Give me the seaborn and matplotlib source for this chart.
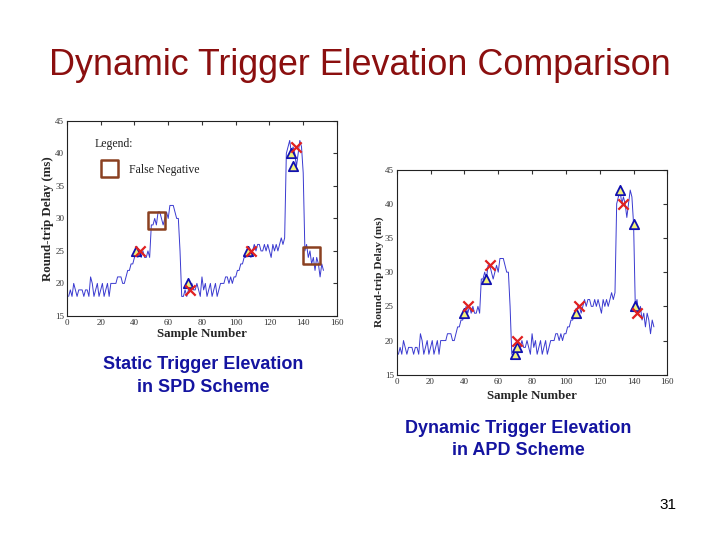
import numpy as np
import pandas as pd
import matplotlib
matplotlib.use("Agg")
import matplotlib.pyplot as plt
import seaborn as sns

# Round-trip delay trace (ms), samples 1..152
delay = [18, 19, 18, 20, 19, 18, 19, 19, 19, 18, 19, 19, 18, 21, 20, 18, 19, 20, 18, 19,
         20, 18, 19, 20, 18, 20, 20, 20, 20, 21, 21, 21, 20, 20, 21, 22, 22, 23, 23, 24,
         25, 24, 25, 24, 25, 24, 24, 25, 24, 29, 29, 30, 29, 31, 31, 30, 29, 30, 31, 30,
         32, 32, 32, 31, 30, 30, 25, 18, 18, 19, 18, 19, 19, 20, 19, 19, 20, 19, 18, 21,
         19, 20, 18, 19, 20, 18, 19, 20, 18, 19, 20, 20, 20, 21, 21, 20, 21, 20, 21, 21,
         22, 22, 23, 23, 24, 24, 25, 25, 24, 25, 26, 25, 26, 26, 25, 25, 26, 25, 26, 25,
         24, 26, 25, 26, 25, 26, 27, 26, 27, 40, 41, 42, 40, 41, 40, 38, 40, 42, 41, 37,
         25, 26, 24, 25, 23, 24, 22, 24, 23, 21, 23, 22]
samples = list(range(1, len(delay) + 1))

# Static scheme (SPD) markers
spd_tri_x = [41, 72, 107, 133, 134]
spd_tri_y = [25, 20, 25, 40, 38]
spd_x_x = [43, 73, 109, 136]
spd_x_y = [25, 19, 25, 41]
spd_fn_x = [53, 145]
spd_fn_y = [29.7, 24.3]

# Dynamic scheme (APD) markers
apd_tri_x = [40, 53, 70, 71, 106, 132, 140, 141]
apd_tri_y = [24, 29, 18, 19, 24, 42, 37, 25]
apd_x_x = [42, 55, 71, 108, 134, 142]
apd_x_y = [25, 31, 20, 25, 40, 24]

sns.set_style("white")
plt.rcParams['font.family'] = ['Liberation Sans', 'DejaVu Sans']

trace = pd.DataFrame({"Sample Number": samples, "Round-trip Delay (ms)": delay})

fig = plt.figure(figsize=(7.2, 5.4), dpi=100)
fig.patch.set_facecolor("white")

ax1 = fig.add_axes([0.093, 0.415, 0.375, 0.361])
ax2 = fig.add_axes([0.551, 0.306, 0.376, 0.380])


def draw_panel(ax, tri_x, tri_y, x_x, x_y, ylab_size, xpad):
    sns.lineplot(data=trace, x="Sample Number", y="Round-trip Delay (ms)", ax=ax,
                 color="#3a3ad0", linewidth=0.7)
    ax.scatter(tri_x, tri_y, marker="^", s=45, facecolors="#f2f27a",
               edgecolors="#1010b0", linewidths=1.3, zorder=4)
    sns.scatterplot(x=x_x, y=x_y, ax=ax, marker="x", s=55,
                    color="#e02020", linewidth=1.6, zorder=5)
    ax.set_xlim(0, 160)
    ax.set_ylim(15, 45)
    ax.set_xticks(range(0, 161, 20))
    ax.set_yticks(range(15, 46, 5))
    ax.tick_params(direction="in", length=3, top=True, right=True, labelsize=6.5,
                   pad=2, colors="#333333")
    for lab in ax.get_xticklabels() + ax.get_yticklabels():
        lab.set_family("Liberation Serif")
    ax.set_xlabel("Sample Number", family="Liberation Serif", fontweight="bold",
                  fontsize=9.3, labelpad=xpad)
    ax.set_ylabel("Round-trip Delay (ms)", family="Liberation Serif",
                  fontweight="bold", fontsize=ylab_size, labelpad=1)
    for sp in ax.spines.values():
        sp.set_color("#222222")
        sp.set_linewidth(0.8)


draw_panel(ax1, spd_tri_x, spd_tri_y, spd_x_x, spd_x_y, 9.3, 1)
draw_panel(ax2, apd_tri_x, apd_tri_y, apd_x_x, apd_x_y, 8.2, 3)

# false negatives and legend in the SPD panel
ax1.scatter(spd_fn_x, spd_fn_y, marker="s", s=150, facecolors="none",
            edgecolors="#8b4020", linewidths=1.8, zorder=6)
ax1.scatter([25], [37.7], marker="s", s=150, facecolors="none",
            edgecolors="#8b4020", linewidths=1.8, zorder=6)
ax1.text(16.5, 41.5, "Legend:", family="Liberation Serif", fontsize=8.5,
         va="center", color="#222222")
ax1.text(37, 37.4, "False Negative", family="Liberation Serif", fontsize=8.5,
         va="center", color="#222222")

fig.text(0.5, 0.878, "Dynamic Trigger Elevation Comparison", ha="center",
         va="center", fontsize=25.8, color="#8b0f0f")
fig.text(0.282, 0.304, "Static Trigger Elevation\nin SPD Scheme", ha="center",
         va="center", fontsize=13, fontweight="bold", color="#1414a0",
         linespacing=1.45)
fig.text(0.72, 0.186, "Dynamic Trigger Elevation\nin APD Scheme", ha="center",
         va="center", fontsize=13, fontweight="bold", color="#1414a0",
         linespacing=1.45)
fig.text(0.928, 0.064, "31", ha="center", va="center", fontsize=11,
         color="black")

fig.savefig("out.png", dpi=100)
